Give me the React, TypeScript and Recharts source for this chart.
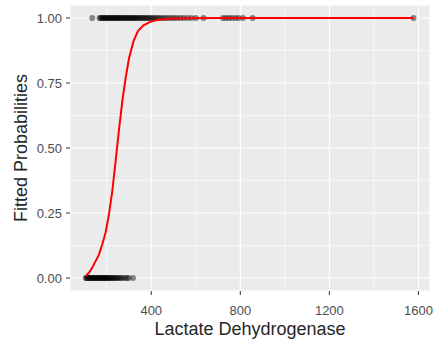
import React from 'react';
import { ComposedChart, Scatter, XAxis, YAxis, CartesianGrid, ReferenceLine } from 'recharts';

// LDH values of patients with outcome 1 (top row) and outcome 0 (bottom row)
const ldhOutcome1 = [
  135, 168, 172, 178, 183, 188, 192, 197, 203, 207, 212, 218, 222, 228, 233, 238,
  243, 248, 252, 257, 262, 268, 273, 278, 284, 289, 294, 300, 305, 311, 316, 322,
  328, 333, 339, 345, 352, 358, 364, 371, 378, 385, 392, 400, 408, 416, 425, 434,
  444, 455, 466, 478, 490, 503, 516, 530, 545, 562, 580, 600, 635, 722, 735, 748,
  762, 778, 792, 812, 855, 1578,
];
const ldhOutcome0 = [
  106, 110, 114, 118, 122, 126, 130, 134, 138, 142, 146, 150, 154, 158, 162, 166,
  170, 174, 178, 182, 186, 190, 194, 198, 202, 206, 210, 215, 220, 225, 230, 236,
  242, 248, 255, 262, 270, 280, 290, 298, 318,
];

// fitted logistic curve
const fitLdh = [106, 120, 135, 150, 165, 180, 195, 210, 225, 240, 255, 270, 285, 300, 320, 340, 365, 395, 430, 480, 560, 700, 1578];
const fitProb = [0.008, 0.02, 0.04, 0.065, 0.09, 0.13, 0.175, 0.245, 0.335, 0.45, 0.57, 0.68, 0.77, 0.845, 0.91, 0.95, 0.972, 0.985, 0.993, 0.997, 0.999, 1, 1];

const xTicks = [400, 800, 1200, 1600];
const xMinor = [200, 600, 1000, 1400];
const yTicks = [0, 0.25, 0.5, 0.75, 1];
const yMinor = [0.125, 0.375, 0.625, 0.875];

const pts1 = ldhOutcome1.map((x) => ({ x, y: 1 }));
const pts0 = ldhOutcome0.map((x) => ({ x, y: 0 }));
const curve = fitLdh.map((x, i) => ({ x, y: fitProb[i] }));

const font = '"Liberation Sans", Arial, sans-serif';

const Dot = (props: any) => (
  <circle cx={props.cx} cy={props.cy} r={3} fill="#000" fillOpacity={0.45} />
);

const XTitle = (props: any) => {
  const vb = props.viewBox || { x: 70, y: 291, width: 360, height: 52 };
  return (
    <text x={vb.x + vb.width / 2} y={vb.y + vb.height - 8} textAnchor="middle"
      fontSize={18} fill="#262626" fontFamily={font}>
      Lactate Dehydrogenase
    </text>
  );
};

const YTitle = (props: any) => {
  const vb = props.viewBox || { x: 0, y: 5, width: 70, height: 286 };
  const x = vb.x + 27;
  const y = vb.y + vb.height / 2;
  return (
    <text x={x} y={y} textAnchor="middle" transform={`rotate(-90, ${x}, ${y})`}
      fontSize={18} fill="#262626" fontFamily={font}>
      Fitted Probabilities
    </text>
  );
};

export default function App() {
  return (
    <div style={{ position: 'absolute', left: 0, top: 0, background: '#fff', fontFamily: font }}>
      <ComposedChart width={436} height={343} margin={{ top: 5, right: 6, bottom: 0, left: 0 }}>
        <CartesianGrid fill="#EBEBEB" fillOpacity={1} stroke="#FFFFFF" strokeWidth={1.2} />
        <XAxis type="number" dataKey="x" domain={[35, 1652]} ticks={xTicks} allowDataOverflow
          height={52} axisLine={false} tickSize={4} tickMargin={11}
          tickLine={{ stroke: '#333' }} tick={{ fill: '#4D4D4D', fontSize: 13, fontFamily: font }}
          label={{ content: XTitle }} />
        <YAxis type="number" dataKey="y" domain={[-0.05, 1.05]} ticks={yTicks} allowDataOverflow
          width={70} axisLine={false} tickSize={4} tickMargin={4}
          tickFormatter={(v: number) => v.toFixed(2)}
          tickLine={{ stroke: '#333' }} tick={{ fill: '#4D4D4D', fontSize: 13, fontFamily: font }}
          label={{ content: YTitle }} />
        {xMinor.map((v) => (
          <ReferenceLine key={'x' + v} x={v} stroke="#FFFFFF" strokeWidth={0.6} />
        ))}
        {yMinor.map((v) => (
          <ReferenceLine key={'y' + v} y={v} stroke="#FFFFFF" strokeWidth={0.6} />
        ))}
        <Scatter data={pts1} shape={Dot} isAnimationActive={false} />
        <Scatter data={pts0} shape={Dot} isAnimationActive={false} />
        <Scatter data={curve} shape={() => <g />} line={{ stroke: '#FF0000', strokeWidth: 2 }}
          lineType="joint" isAnimationActive={false} />
      </ComposedChart>
    </div>
  );
}
